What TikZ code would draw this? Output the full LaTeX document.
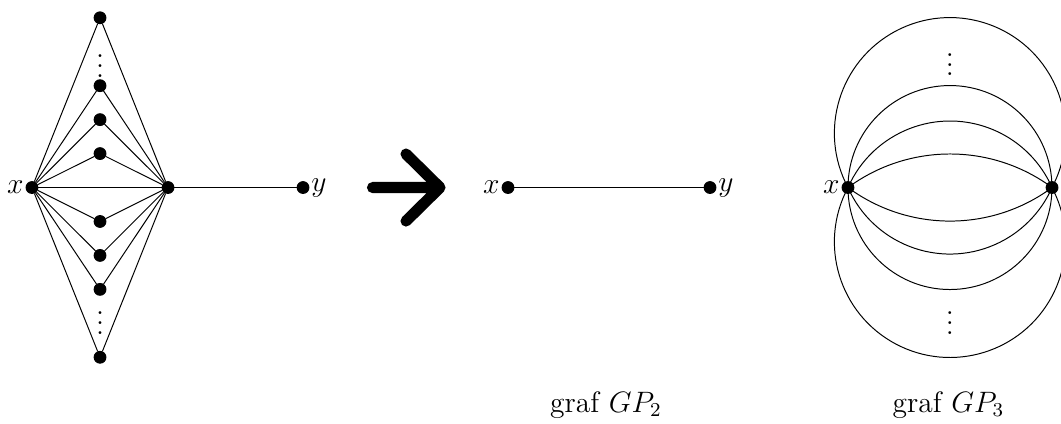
\documentclass[tikz,border=0pt]{standalone}
\usepackage{amsmath,amssymb}
\usepackage{tikz}
\usetikzlibrary{positioning}

\tikzset{
  vtx/.style={draw, circle, fill, inner sep=0pt, minimum size=4.8pt},
  lbl/.style={inner sep=0.6pt}
}

\begin{document}
\begin{tikzpicture}[every node/.style={font=\large}]

    \useasboundingbox (0,2.679) rectangle (15.157,-3.364);

    % graph G
    \node[vtx, label={[lbl]left:$x$}] (x1) at (0.457,0) {};
    \node[vtx] (h1) at (2.4,0) {};
    \node[vtx, label={[lbl]right:$y$}] (y1) at (4.329,0) {};
    \foreach \k in {1,2,3,5,-1,-2,-3,-5} {
        \node[vtx] (c\k) at (1.429,0.485*\k) {};
        \draw (x1) -- (c\k) -- (h1);
    }
    \node at (1.429,1.84) {$\vdots$};
    \node at (1.429,-1.83) {$\vdots$};
    \draw (x1) -- (h1) -- (y1);

    % arrow
    \coordinate (aS) at (5.321,0);
    \coordinate (aT) at (6.286,0);
    \coordinate (aU) at (5.8,0.479);
    \coordinate (aD) at (5.8,-0.479);
    \draw[line width=4.5pt, line cap=round, line join=round] (aS) -- (aT) (aU) -- (aT) -- (aD);

    % graph GP_2
    \node[vtx, label={[lbl]left:$x$}] (x2) at (7.257,0) {};
    \node[vtx, label={[lbl]right:$y$}] (y2) at (10.143,0) {};
    \draw (x2) -- (y2);
    \node (g2) at (8.657,-3.107) {graf $GP_2$};

    % graph GP_3
    \node[vtx, label={[lbl]left:$x$}] (x3) at (12.114,0) {};
    \node[vtx, label={[lbl]right:$y$}] (y3) at (15.029,0) {};
    \foreach \sa/\r in {126.4/2.457, 156.2/1.593, 180/1.457, 208.07/1.651} {
        \draw (x3.center) arc[start angle=\sa, end angle=180-\sa, radius=\r];
        \draw (x3.center) arc[start angle=-\sa, end angle=\sa-180, radius=\r];
    }
    \node at (13.57,1.86) {$\vdots$};
    \node at (13.57,-1.83) {$\vdots$};
    \node (g3) at (13.55,-3.107) {graf $GP_3$};

\end{tikzpicture}
\end{document}
